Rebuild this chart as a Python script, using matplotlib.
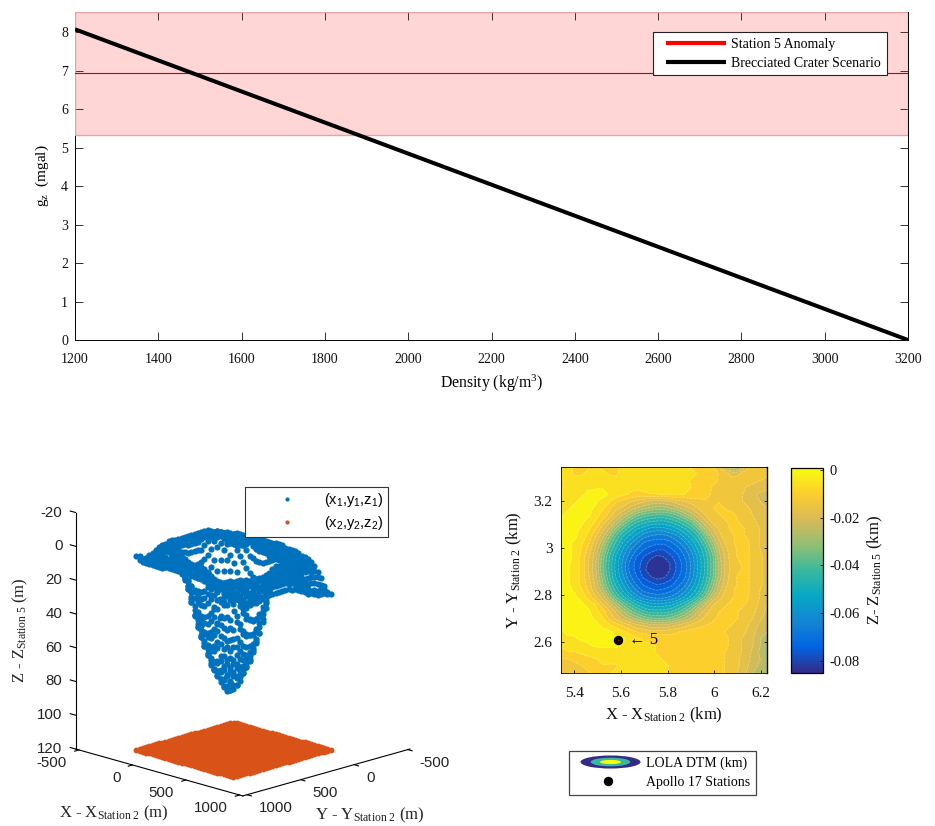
import numpy as np
import matplotlib
matplotlib.use('Agg')
import matplotlib.pyplot as plt
from matplotlib.colors import LinearSegmentedColormap, Normalize
from matplotlib.cm import ScalarMappable
from matplotlib.lines import Line2D
from matplotlib.patches import Ellipse, Patch
from matplotlib.legend_handler import HandlerBase
from mpl_toolkits.mplot3d import proj3d

SERIF = ['Liberation Serif', 'DejaVu Serif']
SANS = ['Liberation Sans', 'DejaVu Sans']
plt.rcParams['font.family'] = SERIF
plt.rcParams['mathtext.fontset'] = 'custom'
plt.rcParams['mathtext.rm'] = 'Liberation Serif'
plt.rcParams['mathtext.sf'] = 'Liberation Sans'
plt.rcParams['mathtext.it'] = 'Liberation Serif:italic'
plt.rcParams['mathtext.bf'] = 'Liberation Serif:bold'

# ---------- data ----------
density = [1200, 3200]
gz = [8.07, 0.0]
anomaly_low, anomaly_mid, anomaly_high = 5.33, 6.93, 8.52
density_ticks = list(range(1200, 3201, 200))
gz_ticks = list(range(0, 9))

# depth below Station 5 (m), rows north to south, columns west to east
depth_m = np.array([
 [5,7,8,8,8,8,8,8,8,7,7,7,7,7,7,7,7,7,7,8,8,9,10,16,24,32,28,18,14,14,15],
 [6,7,8,8,7,7,7,8,8,7,7,6,6,6,6,6,6,6,7,7,8,9,10,12,14,18,16,13,13,13,15],
 [8,7,7,6,6,6,6,6,7,7,6,6,6,6,6,6,5,6,7,8,9,10,11,12,13,14,15,15,15,16,17],
 [8,7,6,5,4,4,4,5,6,7,7,7,6,6,5,5,4,4,5,8,9,10,12,13,14,15,15,16,17,18,19],
 [7,6,5,4,3,2,2,4,5,7,8,9,9,8,8,7,7,7,8,9,10,11,12,13,13,14,15,17,19,21,22],
 [6,5,4,3,3,3,5,7,11,13,15,17,19,21,21,21,20,17,16,14,13,12,12,12,13,14,15,17,19,20,21],
 [5,4,3,3,3,4,7,11,15,17,21,24,27,29,30,30,28,25,22,19,16,13,12,11,12,13,14,15,17,19,20],
 [4,3,3,3,3,6,9,13,19,24,29,35,38,40,41,41,39,36,31,26,21,16,13,12,11,11,13,14,16,18,19],
 [3,3,3,3,5,8,13,19,25,32,39,44,47,49,50,50,48,45,41,36,28,21,15,13,12,11,12,13,15,17,18],
 [3,3,3,4,7,11,18,24,33,41,47,52,55,58,59,58,56,53,49,44,37,27,21,15,13,11,11,12,14,16,18],
 [2,3,3,5,9,15,22,31,41,48,53,58,63,65,66,66,64,61,55,50,44,35,25,18,13,12,11,12,14,16,18],
 [2,3,4,7,11,18,26,37,45,53,59,64,69,71,72,72,70,66,62,55,49,40,31,21,15,12,11,11,13,16,18],
 [2,3,4,8,13,21,30,41,49,57,64,69,73,75,77,77,74,71,66,60,52,45,35,24,17,13,11,11,13,16,18],
 [2,3,4,9,15,22,33,44,53,60,67,73,77,80,82,81,78,74,69,63,55,47,38,26,18,13,11,11,13,15,18],
 [2,3,5,9,16,23,35,45,54,62,70,75,79,83,85,84,81,76,71,64,56,48,39,27,18,14,12,11,13,15,18],
 [2,3,5,9,16,23,35,45,54,62,70,75,80,84,85,84,81,76,71,64,56,48,39,27,18,14,12,11,13,15,18],
 [2,3,5,9,15,22,33,44,53,60,68,73,78,81,83,82,79,74,70,63,55,47,38,27,18,13,11,11,13,15,18],
 [2,3,5,9,14,21,31,41,50,57,64,70,74,76,78,77,75,71,67,60,53,45,35,24,17,13,11,11,13,15,18],
 [2,3,4,7,12,19,26,37,46,53,60,65,70,72,73,72,70,67,62,56,50,41,31,22,15,12,11,11,13,16,19],
 [2,3,3,5,9,15,21,30,40,47,53,59,63,65,66,66,64,61,56,51,44,35,25,18,13,12,11,11,14,16,19],
 [2,3,3,3,5,8,15,21,29,37,43,49,53,55,56,55,54,50,46,40,32,24,17,13,12,11,11,12,14,17,20],
 [2,3,3,3,3,6,10,15,21,28,35,40,44,47,47,47,45,42,37,31,24,18,14,12,11,11,12,13,15,18,21],
 [2,3,3,3,3,4,7,13,17,22,26,30,34,36,37,37,35,32,28,24,19,15,13,11,11,11,12,14,16,19,22],
 [3,3,2,2,3,3,4,7,10,13,16,19,21,23,24,24,22,20,18,15,13,12,11,11,11,12,13,15,18,21,24],
 [4,3,3,3,3,3,3,3,5,7,9,12,13,14,14,14,13,12,11,10,10,10,10,11,12,13,14,16,19,22,24],
 [5,4,4,3,3,3,3,3,3,3,5,7,8,9,9,9,10,10,10,10,10,10,10,10,11,13,15,18,20,24,25],
 [7,6,6,5,4,3,3,3,3,4,5,6,7,7,8,8,9,9,9,9,9,10,10,10,11,13,15,18,20,24,26],
 [9,8,8,7,6,6,5,5,5,6,6,7,7,7,8,8,8,8,8,8,9,9,10,11,12,13,15,18,21,25,26],
 [12,12,11,10,9,8,7,7,7,7,7,7,7,7,7,8,8,8,8,8,9,9,10,11,12,13,16,18,22,24,26],
 [13,13,13,12,11,10,8,8,8,7,7,7,7,7,7,7,8,8,8,8,9,9,10,11,12,14,16,19,23,25,27],
 [13,14,14,13,12,10,9,8,7,7,7,7,7,7,7,7,8,8,8,8,9,10,10,11,12,14,17,20,24,27,28],
], dtype=float)

map_x_km = np.linspace(5.344, 6.226, 31)
map_y_km = np.linspace(3.343, 2.468, 31)
surf_x_m = np.linspace(-235, 672, 31)
surf_y_m = np.linspace(-137, 770, 31)
plane_z_m = 120
station_x, station_y = 5.59, 2.61

map_xticks = [5.4, 5.6, 5.8, 6.0, 6.2]
map_xlabels = ['5.4', '5.6', '5.8', '6', '6.2']
map_yticks = [2.6, 2.8, 3.0, 3.2]
map_ylabels = ['2.6', '2.8', '3', '3.2']
cbar_ticks = [0, -0.02, -0.04, -0.06, -0.08]
cbar_labels = ['0', '-0.02', '-0.04', '-0.06', '-0.08']
ticks_xy = [-500, 0, 500, 1000]
ticks_z = [-20, 0, 20, 40, 60, 80, 100, 120]

parula = LinearSegmentedColormap.from_list('parula', [
    '#352a87', '#0363e1', '#1485d4', '#06a7c6', '#38b99e',
    '#92bf73', '#d9ba56', '#fcce2e', '#f9fb0e'])
BLUE, ORANGE = '#0072BD', '#D95319'

W, H = 935, 826
fig = plt.figure(figsize=(W / 100, H / 100), dpi=100, facecolor='white')

def rect(l, t, r, b):
    return [l / W, 1 - b / H, (r - l) / W, (b - t) / H]

def figxy(x, y):
    return x / W, 1 - y / H

# ---------- 3D panel (drawn first, stays underneath) ----------
xl3, yl3, zl3 = (-532, 1030), (-520, 1040), (-20, 120)
ax3 = fig.add_axes([0, 0, 800 / W, 800 / H], projection='3d',
                   proj_type='ortho', computed_zorder=False)
ax3.patch.set_visible(False)
ax3.set_xticks([])
ax3.set_yticks([])
ax3.set_zticks([])
ax3.set_axis_off()
ax3.view_init(elev=-16.3, azim=225)
ax3.set_xlim(*xl3)
ax3.set_ylim(*yl3)
ax3.set_zlim(zl3[1], zl3[0])
ax3.set_box_aspect((1, 1, 1.042))

def to_px(x, y, z):
    u, v, _ = proj3d.proj_transform(x, y, z, ax3.get_proj())
    return ax3.transData.transform((u, v))

fig.canvas.draw()
pa = to_px(xl3[0], yl3[1], zl3[1])
pb = to_px(xl3[1], yl3[0], zl3[1])
span0 = pb[0] - pa[0]
scale = (410 - 75.6) / span0
S = 800 * scale
left = 75.6 - pa[0] * scale
bottom = (H - 749) - pa[1] * scale
ax3.set_position([left / W, bottom / H, S / W, S / H])
fig.canvas.draw()

gx, gy = np.meshgrid(surf_x_m, surf_y_m)
ax3.scatter(gx.ravel(), gy.ravel(), depth_m[::-1, :].ravel(), s=20, c=BLUE,
            depthshade=False, linewidths=0)
ax3.scatter(gx.ravel(), gy.ravel(), np.full(gx.size, plane_z_m), s=18, c=ORANGE,
            depthshade=False, linewidths=0)

AX = dict(color='k', lw=0.8, zorder=5)
ax3.plot([xl3[0], xl3[0]], [yl3[1], yl3[1]], [zl3[0], zl3[1]], **AX)
ax3.plot([xl3[0], xl3[1]], [yl3[1], yl3[1]], [zl3[1], zl3[1]], **AX)
ax3.plot([xl3[1], xl3[1]], [yl3[0], yl3[1]], [zl3[1], zl3[1]], **AX)
TK = dict(fontsize=10.8, family=SANS, color='#222222', va='center')

def tick_text(point, sx, sy, label, ha):
    p = to_px(*point)
    fig.text((p[0] + sx) / W, (p[1] - sy) / H, label, ha=ha, **TK)

for t in ticks_z:
    ax3.plot([xl3[0], xl3[0] - 50], [yl3[1], yl3[1]], [t, t], **AX)
    tick_text((xl3[0], yl3[1], t), -13, 0, str(t), 'right')
for t in ticks_xy:
    ax3.plot([t, t], [yl3[1], yl3[1] + 40], [zl3[1], zl3[1]], **AX)
    tick_text((t, yl3[1], zl3[1]), -12, 13, str(t), 'right')
    ax3.plot([xl3[1], xl3[1] + 40], [t, t], [zl3[1], zl3[1]], **AX)
    tick_text((xl3[1], t, zl3[1]), 12, 13, str(t), 'left')

LBL3 = dict(fontsize=12, ha='center', va='center', color='#222222')
x, y = figxy(114, 813)
fig.text(x, y, r'X - X$_{\mathrm{Station\ 2}}$ (m)', **LBL3)
x, y = figxy(370, 815)
fig.text(x, y, r'Y - Y$_{\mathrm{Station\ 2}}$ (m)', **LBL3)
x, y = figxy(20, 630)
fig.text(x, y, r'Z - Z$_{\mathrm{Station\ 5}}$ (m)', rotation=90, **LBL3)

# ---------- top panel ----------
ax = fig.add_axes(rect(75, 12, 908, 340))
ax.set_axisbelow(True)
ax.axhspan(anomaly_low, anomaly_high, facecolor=(1, 0, 0, 0.16),
           edgecolor='#e9a0a3', lw=1, zorder=1)
for s in ax.spines.values():
    s.set_linewidth(0.7)
    s.set_zorder(0.5)
l1, = ax.plot(density, [anomaly_mid, anomaly_mid], color='#c00000', lw=0.8, zorder=2)
l2, = ax.plot(density, gz, color='k', lw=2.9, zorder=3, solid_capstyle='butt', clip_on=True)
ax.set_xlim(1200, 3200)
ax.set_ylim(0, anomaly_high)
ax.set_xticks(density_ticks)
ax.set_yticks(gz_ticks)
ax.tick_params(direction='in', length=6, width=0.6, top=True, right=True,
               labelsize=10, colors='#111111')
ax.tick_params(axis='x', pad=9)
ax.tick_params(axis='y', pad=5)
ax.set_xlabel('Density (kg/m$^{\\mathrm{3}}$)', fontsize=11.3, labelpad=5.5)
ax.set_ylabel('g$_{\\mathrm{z}}$  (mgal)', fontsize=11, labelpad=7)

class InsetLine(HandlerBase):
    def create_artists(self, legend, orig, xd, yd, width, height, fontsize, trans):
        inset = 0.105 * width
        y = height / 2 - yd
        ln = Line2D([inset - xd, width * 0.975 - xd], [y, y], color=orig.get_color(),
                    lw=orig.get_linewidth(), solid_capstyle='butt', transform=trans)
        return [ln]

leg_handles = [Line2D([], [], color='#ff0000', lw=3), Line2D([], [], color='k', lw=3)]
x, y = figxy(653, 32)
leg1 = fig.legend(leg_handles, ['Station 5 Anomaly', 'Brecciated Crater Scenario'],
                  handler_map={Line2D: InsetLine()},
                  loc='upper left', bbox_to_anchor=(x, y), borderaxespad=0, fontsize=10,
                  handlelength=4.97, handletextpad=0.27, labelspacing=0.45, borderpad=0.4,
                  fancybox=False, framealpha=1, edgecolor='#222222')
leg1.get_frame().set_linewidth(0.8)

# ---------- map panel ----------
amap = fig.add_axes(rect(561, 467, 767, 673))
levels = np.linspace(-0.0855, 0.0005, 22)
Xm, Ym = np.meshgrid(map_x_km, map_y_km)
Zm = -depth_m / 1000
norm = Normalize(vmin=-0.0852, vmax=0.0008)
amap.contourf(Xm, Ym, Zm, levels=levels, cmap=parula, norm=norm)
amap.contour(Xm, Ym, Zm, levels=levels, colors='white', linewidths=0.5, alpha=0.3)
amap.set_xlim(5.344, 6.226)
amap.set_ylim(2.468, 3.343)
amap.set_xticks(map_xticks, map_xlabels)
amap.set_yticks(map_yticks, map_ylabels)
amap.tick_params(direction='in', length=2, width=0.6, right=True, top=False,
                 labelsize=11, pad=6, colors='#111111')
amap.tick_params(axis='x', pad=10)
for s in amap.spines.values():
    s.set_linewidth(0.6)
amap.spines['right'].set_linewidth(1)
amap.set_xlabel(r'X - X$_{\mathrm{Station\ 2}}$ (km)', fontsize=12, labelpad=4, color='#111111')
amap.set_ylabel(r'Y - Y$_{\mathrm{Station\ 2}}$ (km)', fontsize=12, labelpad=7, color='#111111')
amap.plot([station_x], [station_y], 'o', color='k', ms=6.8, mew=0, zorder=6)
amap.plot([station_x], [station_y], 'o', color='#e00000', ms=0.8, mew=0, zorder=7)
amap.text(station_x + 0.045, station_y, '\u2190 5', fontsize=12, va='center', ha='left', zorder=7,
          family=['Liberation Serif', 'DejaVu Sans'])

cax = fig.add_axes(rect(791, 468, 823, 673))
cb = fig.colorbar(ScalarMappable(norm=norm, cmap=parula), cax=cax)
cb.set_ticks(cbar_ticks, labels=cbar_labels)
cb.ax.tick_params(direction='in', length=2.5, width=0.6, labelsize=10.5, pad=5, colors='#111111')
cb.outline.set_linewidth(0.9)
cb.set_label(r'Z- Z$_{\mathrm{Station\ 5}}$ (km)', fontsize=12, labelpad=4, color='#111111')

class EllipseIcon(HandlerBase):
    def create_artists(self, legend, orig, xd, yd, width, height, fontsize, trans):
        inset = 0.09 * width
        w = width - inset
        cx, cy = inset + w / 2 - xd, height / 2 - yd
        out = []
        for fw, fh, col in [(1.0, 1.0, '#352a87'), (0.66, 0.66, '#38b99e'), (0.35, 0.32, '#f9fb0e')]:
            out.append(Ellipse((cx, cy), w * fw, 9.4 * fh,
                               facecolor=col, edgecolor='none', transform=trans))
        return out

proxy_dtm = Patch(label='LOLA DTM (km)')
proxy_st = Line2D([], [], linestyle='none', marker='o', color='k', ms=6.8, mew=0)
x, y = figxy(569, 751)
leg3 = fig.legend([proxy_dtm, proxy_st], ['LOLA DTM (km)', 'Apollo 17 Stations'],
                  handler_map={Patch: EllipseIcon()}, loc='upper left', bbox_to_anchor=(x, y),
                  borderaxespad=0, fontsize=10, handlelength=4.75, handletextpad=0.39,
                  labelspacing=0.45, borderpad=0.4, fancybox=False, framealpha=1,
                  edgecolor='#444444')
leg3.get_frame().set_linewidth(0.9)

pt_handles = [Line2D([], [], linestyle='none', marker='o', color=BLUE, ms=3, mew=0),
              Line2D([], [], linestyle='none', marker='o', color=ORANGE, ms=3, mew=0)]
x, y = figxy(245, 487)
leg2 = fig.legend(pt_handles, [r'(x$_{\mathsf{1}}$,y$_{\mathsf{1}}$,z$_{\mathsf{1}}$)',
                               r'(x$_{\mathsf{2}}$,y$_{\mathsf{2}}$,z$_{\mathsf{2}}$)'],
                  loc='upper left', bbox_to_anchor=(x, y), borderaxespad=0,
                  prop={'family': SANS, 'size': 10.5}, handlelength=5.14, handletextpad=0.0,
                  labelspacing=0.34, borderpad=0.3, fancybox=False, framealpha=1,
                  edgecolor='#333333')
leg2.get_frame().set_linewidth(0.8)

fig.savefig('out.png', dpi=100)
